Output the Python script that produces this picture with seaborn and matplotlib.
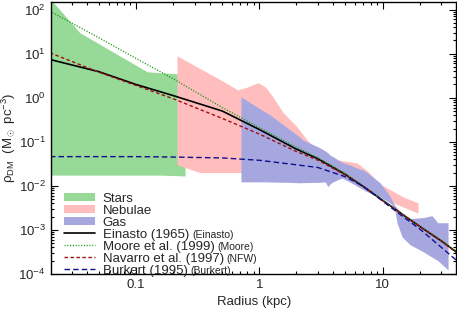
import matplotlib
matplotlib.use('Agg')
import matplotlib.pyplot as plt
import seaborn as sns
import pandas as pd
from matplotlib.ticker import FixedLocator, FuncFormatter, LogLocator, NullFormatter


# rotation curve derived dark matter density
star_r = [0.02, 0.035, 0.123, 0.157, 0.215, 0.25]
star_hi = [180, 30, 3.9, 3.7, 3.5, 3.5]
star_lo = [0.0175, 0.0175, 0.0175, 0.0175, 0.017, 0.0167]

neb_r = [0.215, 0.33, 0.48, 0.67, 0.8, 0.98, 1.12, 1.29, 1.56, 2.02, 2.44, 2.94, 4.27, 6.2, 7.5, 9.5, 12.2, 14.7, 19.4]
neb_hi = [9.0, 4.6, 2.6, 1.5, 1.75, 2.2, 1.75, 1.05, 0.46, 0.22, 0.11, 0.066, 0.039, 0.033, 0.022, 0.011, 0.0075, 0.0056, 0.0041]
neb_lo = [0.030, 0.020, 0.020, 0.020, 0.020, 0.020, 0.020, 0.020, 0.020, 0.020, 0.020, 0.020, 0.018, 0.015, 0.012, 0.0075, 0.0041, 0.0033, 0.0024]

gas_r = [0.71, 1.07, 1.22, 1.68, 2.15, 2.26, 3.11, 3.43, 3.6, 3.75, 3.96, 4.69, 5.4, 6.3, 6.95, 7.5,
         9.55, 11.5, 12.2, 12.6, 13.1, 14.4, 16.7, 21.3, 25.2, 28.1, 34.0]
gas_hi = [1.05, 0.51, 0.41, 0.21, 0.125, 0.11, 0.073, 0.062, 0.056, 0.050, 0.046, 0.034, 0.030, 0.025, 0.023, 0.020,
          0.0117, 0.0058, 0.0041, 0.0036, 0.0031, 0.0024, 0.0018, 0.0019, 0.0021, 0.00145, 0.00145]
gas_lo = [0.0123, 0.0123, 0.0122, 0.012, 0.0117, 0.0118, 0.012, 0.0123, 0.0096, 0.011, 0.0123, 0.015, 0.0123, 0.0096, 0.0082, 0.0073,
          0.0056, 0.0041, 0.0034, 0.0028, 0.00145, 0.00069, 0.00046, 0.00032, 0.00024, 0.0002, 0.000123]

# halo profiles
prof_r = [0.02, 0.05, 0.1, 0.2, 0.5, 1, 2, 3, 5, 7, 10, 15, 20, 30, 40]
einasto = [7.4, 3.9, 2.0, 1.12, 0.5, 0.19, 0.068, 0.041, 0.018, 0.0096, 0.0047, 0.0021, 0.0012, 0.00056, 0.00031]
moore = [92, 23, 7.8, 2.7, 0.6, 0.21, 0.075, 0.043, 0.019, 0.0098, 0.0048, 0.0021, 0.00122, 0.00057, 0.00032]
nfw = [10.5, 3.8, 1.9, 0.95, 0.34, 0.15, 0.060, 0.038, 0.0175, 0.0095, 0.0046, 0.0021, 0.0012, 0.00055, 0.0003]
burkert = [0.046, 0.046, 0.046, 0.045, 0.043, 0.038, 0.030, 0.026, 0.016, 0.0097, 0.0045, 0.0019, 0.00105, 0.0004, 0.0002]

profiles = [
    ('Einasto (1965)', '(Einasto)', einasto, 'black', '-', 1.2),
    ('Moore et al. (1999)', '(Moore)', moore, '#1a9a1a', (0, (0.8, 1.2)), 1.0),
    ('Navarro et al. (1997)', '(NFW)', nfw, '#a01010', (0, (2.5, 1.8)), 1.0),
    ('Burkert (1995)', '(Burkert)', burkert, '#10108c', (0, (4, 2.2)), 1.0),
]

sns.set_style('ticks')
plt.rcParams['font.family'] = ['Liberation Sans', 'DejaVu Sans']
plt.rcParams['mathtext.fontset'] = 'custom'
plt.rcParams['mathtext.rm'] = 'Liberation Sans'
plt.rcParams['mathtext.it'] = 'Liberation Sans:italic'
plt.rcParams['mathtext.bf'] = 'Liberation Sans:bold'

fig, ax = plt.subplots(figsize=(4.57, 3.17), dpi=100)
fig.subplots_adjust(left=0.112, right=0.998, top=0.994, bottom=0.136)

ax.set_xscale('log')
ax.set_yscale('log')

ax.fill_between(star_r, star_lo, star_hi, color='#97d997', lw=0, label='Stars')
ax.fill_between(neb_r, neb_lo, neb_hi, color='#ffbdbd', lw=0, label='Nebulae')
ax.fill_between(gas_r, gas_lo, gas_hi, color='#a7a7e0', lw=0, label='Gas')

for name, short, vals, col, ls, lw in profiles:
    df = pd.DataFrame({'r': prof_r, 'rho': vals})
    sns.lineplot(data=df, x='r', y='rho', color=col, linestyle=ls, lw=lw, ax=ax, label=name)

ax.set_xlim(0.0205, 39.5)
ax.set_ylim(1e-4, 150)

ax.xaxis.set_major_locator(FixedLocator([0.1, 1, 10]))
ax.xaxis.set_major_formatter(FuncFormatter(lambda v, p: f'{v:g}'))
ax.xaxis.set_minor_locator(LogLocator(base=10, subs=range(2, 10), numticks=20))
ax.xaxis.set_minor_formatter(NullFormatter())
ax.yaxis.set_major_locator(LogLocator(base=10, numticks=20))
ax.yaxis.set_minor_locator(LogLocator(base=10, subs=range(2, 10), numticks=20))
ax.yaxis.set_minor_formatter(NullFormatter())

ax.tick_params(which='both', direction='in', top=True, right=True, labelsize=9.5, width=0.8, color='black', pad=4)
ax.tick_params(which='major', length=5)
ax.tick_params(which='minor', length=2.5)
for sp in ax.spines.values():
    sp.set_linewidth(1.0)
    sp.set_color('black')

ax.set_xlabel('Radius (kpc)', fontsize=9.5, labelpad=3)
ax.set_ylabel(r'$\mathrm{\rho_{DM}}$  (M$_\odot$ pc$^{-3}$)', fontsize=9.5)
ax.yaxis.set_label_coords(-0.082, 0.5)

leg = ax.legend(loc='lower left', bbox_to_anchor=(0.01, -0.045), frameon=False, fontsize=9.5,
                handlelength=2.3, handleheight=0.6, handletextpad=0.6, labelspacing=0.0, borderaxespad=0.3)

# smaller model tags after the legend entries
fig.canvas.draw()
rend = fig.canvas.get_renderer()
for t, (name, short, *_rest) in zip(leg.get_texts()[3:], profiles):
    bb = t.get_window_extent(rend)
    fig.text(bb.x1 + 3, bb.y0 + 1, short, fontsize=7.5, transform=None, va='bottom', ha='left')

fig.savefig('out.png', dpi=100)
